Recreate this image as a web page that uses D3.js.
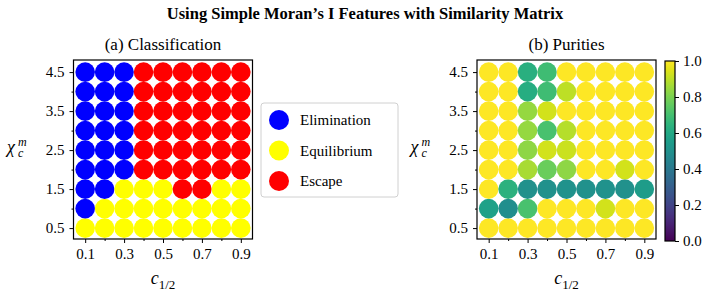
<!DOCTYPE html>
<html>
<head>
<meta charset="utf-8">
<script src="https://cdn.jsdelivr.net/npm/d3@7"></script>
<style>
  body { margin: 0; background: #fff; }
  text { font-family: "Liberation Serif", "DejaVu Serif", serif; fill: #000; }
</style>
</head>
<body>
<div id="chart"></div>
<script>
// grid values
var xVals = [0.1, 0.2, 0.3, 0.4, 0.5, 0.6, 0.7, 0.8, 0.9]
var yVals = [0.5, 1.0, 1.5, 2.0, 2.5, 3.0, 3.5, 4.0, 4.5]
var xTicks = [0.1, 0.3, 0.5, 0.7, 0.9]
var xMinor = [0.2, 0.4, 0.6, 0.8]
var yTicks = [0.5, 1.5, 2.5, 3.5, 4.5]
var yMinor = [1.0, 2.0, 3.0, 4.0]
var cbTicks = [0.0, 0.2, 0.4, 0.6, 0.8, 1.0]

var classNames = ["Elimination", "Equilibrium", "Escape"]
var classColors = ["#0000ff", "#ffff00", "#ff0000"]

// rows from y=0.5 (bottom) to y=4.5 (top); 0 = elimination, 1 = equilibrium, 2 = escape
var classRows = [
  [1, 1, 1, 1, 1, 1, 1, 1, 1],
  [0, 1, 1, 1, 1, 1, 1, 1, 1],
  [0, 0, 1, 1, 1, 2, 2, 1, 1],
  [0, 0, 0, 2, 2, 2, 2, 2, 2],
  [0, 0, 0, 2, 2, 2, 2, 2, 2],
  [0, 0, 0, 2, 2, 2, 2, 2, 2],
  [0, 0, 0, 2, 2, 2, 2, 2, 2],
  [0, 0, 0, 2, 2, 2, 2, 2, 2],
  [0, 0, 0, 2, 2, 2, 2, 2, 2]
]

var purityRows = [
  [1.00, 1.00, 1.00, 1.00, 1.00, 1.00, 1.00, 1.00, 1.00],
  [0.57, 0.49, 0.71, 1.00, 1.00, 1.00, 0.93, 1.00, 1.00],
  [1.00, 0.64, 0.50, 0.50, 0.51, 0.50, 0.51, 0.50, 0.55],
  [1.00, 1.00, 0.87, 0.77, 0.83, 1.00, 1.00, 0.93, 1.00],
  [1.00, 1.00, 0.83, 0.93, 0.92, 1.00, 1.00, 1.00, 1.00],
  [1.00, 1.00, 0.84, 0.71, 0.89, 1.00, 1.00, 1.00, 1.00],
  [1.00, 1.00, 0.84, 0.93, 1.00, 1.00, 1.00, 1.00, 1.00],
  [1.00, 1.00, 0.62, 0.69, 0.90, 1.00, 1.00, 1.00, 1.00],
  [1.00, 1.00, 0.63, 0.69, 1.00, 1.00, 1.00, 1.00, 1.00]
]

var width = 716
var height = 300
var plotW = 179
var plotH = 179
var plotTop = 60
var radius = 9.8

var svg = d3.select('#chart').append('svg')
            .attr('width', width)
            .attr('height', height)

svg.append('text')
   .attr('x', 365).attr('y', 19)
   .attr('text-anchor', 'middle')
   .style('font-size', '16.5px')
   .style('font-weight', 'bold')
   .text("Using Simple Moran\u2019s I Features with Similarity Matrix")

var x = d3.scaleLinear().domain([0.04, 0.96]).range([0, plotW])
var y = d3.scaleLinear().domain([0.22, 4.81]).range([plotH, 0])

function cells(rows) {
  var out = []
  rows.forEach(function(row, i) {
    row.forEach(function(v, j) {
      out.push({x: xVals[j], y: yVals[i], v: v})
    })
  })
  return out
}

function makePanel(left, title, data, colorFn) {
  var g = svg.append('g').attr('transform', 'translate(' + left + ',' + plotTop + ')')

  g.append('text')
   .attr('x', plotW / 2).attr('y', -10)
   .attr('text-anchor', 'middle')
   .style('font-size', '17px')
   .text(title)

  g.selectAll('circle')
   .data(data)
   .enter().append('circle')
   .attr('cx', function(d) { return x(d.x) })
   .attr('cy', function(d) { return y(d.y) })
   .attr('r', radius)
   .style('fill', colorFn)

  var xAxis = g.append('g').attr('transform', 'translate(0,' + plotH + ')')
               .call(d3.axisBottom(x).tickValues(xTicks).tickSize(4).tickPadding(5)
                     .tickFormat(d3.format('.1f')))
  xAxis.append('g')
       .call(d3.axisBottom(x).tickValues(xMinor).tickSize(2).tickFormat(''))
  var yAxis = g.append('g')
               .call(d3.axisLeft(y).tickValues(yTicks).tickSize(4).tickPadding(5)
                     .tickFormat(d3.format('.1f')))
  yAxis.append('g')
       .call(d3.axisLeft(y).tickValues(yMinor).tickSize(2).tickFormat(''))

  g.selectAll('.domain').remove()
  g.selectAll('.tick line').attr('stroke', '#000').attr('stroke-width', 1)
  g.selectAll('.tick text')
   .style('font-family', '"Liberation Serif", serif')
   .style('font-size', '15px')

  g.append('rect')
   .attr('width', plotW).attr('height', plotH)
   .attr('fill', 'none').attr('stroke', '#000').attr('stroke-width', 1.2)

  // x label c_{1/2}
  var xl = g.append('text')
            .attr('x', plotW / 2).attr('y', plotH + 45)
            .attr('text-anchor', 'middle')
  xl.append('tspan').style('font-style', 'italic').style('font-size', '18px').text('c')
  xl.append('tspan').attr('dy', 5).style('font-size', '13px').text('1/2')

  // y label chi_c^m
  var yl = g.append('text').attr('x', -66.5).attr('y', 93)
            .style('font-style', 'italic')
  yl.append('tspan').style('font-size', '18px').text('\u03c7')
  yl.append('tspan').attr('x', -55.5).attr('dy', 4)
    .style('font-size', '12px').text('c')
  yl.append('tspan').attr('x', -55.5).attr('dy', -11)
    .style('font-size', '12px').text('m')

  return g
}

makePanel(73.5, '(a) Classification', cells(classRows), function(d) { return classColors[d.v] })
makePanel(477, '(b) Purities', cells(purityRows), function(d) { return d3.interpolateViridis(d.v) })

// legend
var legend = svg.append('g').attr('transform', 'translate(261,103)')
legend.append('rect')
      .attr('width', 137).attr('height', 94).attr('rx', 3)
      .attr('fill', '#fff').attr('stroke', '#d0d0d0').attr('stroke-width', 1)
var item = legend.selectAll('.item')
                 .data(classNames)
                 .enter().append('g')
                 .attr('class', 'item')
                 .attr('transform', function(d, i) { return 'translate(0,' + (17 + i * 30.5) + ')' })
item.append('circle').attr('cx', 18).attr('r', 10)
    .style('fill', function(d, i) { return classColors[i] })
item.append('text').attr('x', 39).attr('dy', '0.35em')
    .style('font-size', '15px')
    .text(function(d) { return d })

// colorbar
var cbX = 665, cbW = 10, cbTop = 61, cbH = 180
var defs = svg.append('defs')
var grad = defs.append('linearGradient').attr('id', 'viridis')
               .attr('x1', 0).attr('y1', 1).attr('x2', 0).attr('y2', 0)
d3.range(0, 1.001, 0.05).forEach(function(t) {
  grad.append('stop').attr('offset', t).attr('stop-color', d3.interpolateViridis(t))
})
var cb = svg.append('g').attr('transform', 'translate(' + cbX + ',' + cbTop + ')')
cb.append('rect').attr('width', cbW).attr('height', cbH).attr('fill', 'url(#viridis)')
var cbScale = d3.scaleLinear().domain([0, 1]).range([cbH, 0])
cb.append('g').attr('transform', 'translate(' + cbW + ',0)')
  .call(d3.axisRight(cbScale).tickValues(cbTicks).tickSize(4).tickPadding(4)
        .tickFormat(d3.format('.1f')))
  .call(function(a) { a.select('.domain').remove() })
  .selectAll('text').style('font-family', '"Liberation Serif", serif').style('font-size', '15px')
cb.append('rect').attr('width', cbW).attr('height', cbH)
  .attr('fill', 'none').attr('stroke', '#000').attr('stroke-width', 1.2)
</script>
</body>
</html>
